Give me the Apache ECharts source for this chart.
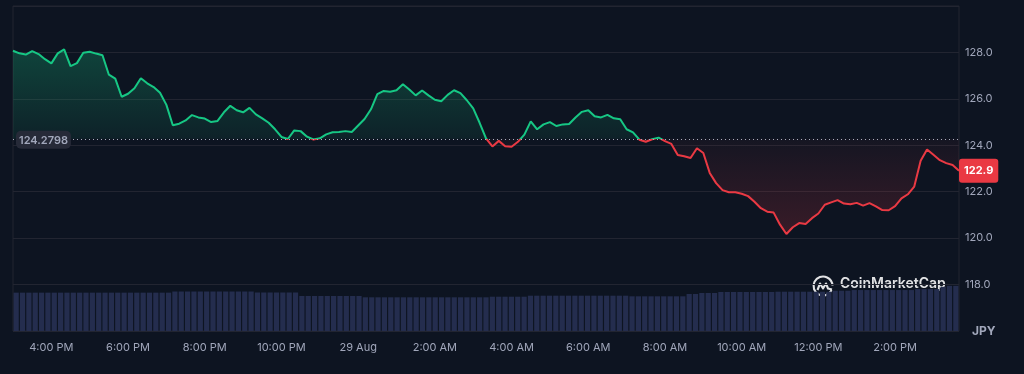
<!DOCTYPE html>
<html>
<head>
<meta charset="utf-8">
<script src="https://cdn.jsdelivr.net/npm/echarts@6/dist/echarts.min.js"></script>
<style>
html,body{margin:0;padding:0;background:#0d1421;}
#c{width:1024px;height:374px;}
</style>
</head>
<body>
<div id="c"></div>
<script>
// ---- data ----
const BASE_PRICE = 124.2798;   // reference (open) price
const LAST_PRICE = 122.9;
const START_MINUTE = 15 * 60;  // 3:00 PM, 28 Aug
const STEP_MIN = 10;
const DAY2_LABEL = '29 Aug';

const prices = [
  128.07,127.96,127.91,128.06,127.93,127.71,127.53,127.96,128.13,127.41,
  127.54,127.99,128.03,127.95,127.88,127.04,126.87,126.09,126.22,126.46,
  126.89,126.67,126.51,126.26,125.74,124.86,124.93,125.07,125.30,125.20,
  125.15,125.00,125.05,125.42,125.70,125.51,125.42,125.61,125.33,125.16,
  124.97,124.69,124.36,124.27,124.64,124.61,124.37,124.25,124.30,124.47,
  124.56,124.57,124.61,124.57,124.85,125.13,125.55,126.20,126.34,126.31,
  126.37,126.63,126.40,126.15,126.36,126.15,125.96,125.90,126.17,126.37,
  126.25,125.94,125.59,124.97,124.30,123.95,124.19,123.96,123.94,124.15,
  124.46,125.03,124.69,124.90,125.00,124.83,124.90,124.92,125.20,125.44,
  125.51,125.25,125.20,125.31,125.16,125.12,124.69,124.56,124.24,124.15,
  124.26,124.33,124.18,124.06,123.58,123.53,123.45,123.87,123.67,122.81,
  122.37,122.07,121.98,121.98,121.91,121.81,121.57,121.29,121.14,121.10,
  120.58,120.18,120.47,120.65,120.61,120.86,121.06,121.44,121.54,121.64,
  121.49,121.46,121.52,121.40,121.51,121.37,121.21,121.20,121.38,121.71,
  121.89,122.22,123.33,123.82,123.59,123.36,123.23,123.15,122.90
];

const volumes = [
  11.80,11.80,11.80,11.80,11.80,11.80,11.80,11.80,11.80,11.80,
  11.80,11.80,11.80,11.80,11.80,11.80,11.80,11.80,11.80,11.80,
  11.80,11.80,11.80,11.80,11.80,12.15,12.15,12.15,12.15,12.15,
  12.15,12.15,12.15,12.15,12.15,12.15,12.15,12.15,11.85,11.85,
  11.85,11.85,11.85,11.85,11.85,10.77,10.77,10.77,10.77,10.77,
  10.77,10.77,10.77,10.77,10.77,10.37,10.37,10.37,10.37,10.37,
  10.37,10.37,10.37,10.37,10.37,10.37,10.37,10.37,10.37,10.37,
  10.37,10.37,10.37,10.37,10.37,10.55,10.55,10.55,10.55,10.55,
  10.55,10.86,10.86,10.86,10.86,10.86,10.86,10.86,10.86,10.86,
  10.86,10.86,10.86,10.86,10.86,10.86,10.86,10.68,10.68,10.68,
  10.68,10.68,10.68,10.68,10.68,10.68,11.38,11.38,11.69,11.69,
  11.69,12.00,12.00,12.00,12.00,12.00,12.00,12.00,12.00,12.00,
  12.09,12.09,12.09,12.09,12.09,12.09,12.09,12.09,12.09,12.40,
  12.40,12.40,12.60,12.60,12.60,12.60,12.60,12.60,12.60,12.60,
  12.60,12.60,12.90,12.90,12.90,12.90,13.60,13.90,13.90
];

const priceTickLabels = [118, 120, 122, 124, 126, 128];

// category keys: minutes since 00:00 of 28 Aug
const categories = prices.map((_, i) => String(START_MINUTE + i * STEP_MIN));

function timeLabel(key) {
  const t = Number(key);
  const m = t % 1440;
  if (m === 0) return DAY2_LABEL;
  const h = Math.floor(m / 60), mm = m % 60;
  const ap = h >= 12 ? 'PM' : 'AM';
  const h12 = (h % 12) || 12;
  return h12 + ':' + String(mm).padStart(2, '0') + ' ' + ap;
}

// ---- styles ----
const GREEN = '#16c784';
const RED = '#ea3943';
const BG = '#0d1421';
const GRID = '#222531';
const LABEL = '#a1a7bb';
const FONT = 'Inter, "Noto Sans", sans-serif';

const greenArea = prices.map(v => Math.max(v, BASE_PRICE));
const redArea = prices.map(v => Math.min(v, BASE_PRICE));

const chart = echarts.init(document.getElementById('c'), null, {renderer: 'canvas'});

chart.setOption({
  backgroundColor: BG,
  animation: false,
  textStyle: {fontFamily: FONT},
  title: {
    text: 'JPY', left: 967, top: 320,
    textStyle: {color: LABEL, fontSize: 12, fontWeight: 'bold', fontFamily: FONT}
  },
  grid: {left: 13, right: 65, top: 6, bottom: 43, show: true, borderColor: GRID, borderWidth: 1, containLabel: false},
  xAxis: [
    {
      type: 'category',
      data: categories,
      boundaryGap: false,
      axisLine: {show: false},
      axisTick: {show: false},
      splitLine: {show: false},
      axisLabel: {
        interval: (idx, val) => (Number(val) % 1440) % 120 === 0,
        formatter: v => timeLabel(v),
        color: LABEL, fontSize: 11, margin: 11, fontFamily: FONT
      }
    },
    {
      type: 'category', data: categories, boundaryGap: true, show: false
    }
  ],
  yAxis: [
    {
      type: 'value', position: 'right', min: 116, max: 130, interval: 2,
      axisLine: {show: false}, axisTick: {show: false},
      splitLine: {show: true, lineStyle: {color: GRID, width: 1}},
      axisLabel: {
        formatter: v => priceTickLabels.includes(v) ? v.toFixed(1) : '',
        color: LABEL, fontSize: 11, margin: 6, fontFamily: FONT
      }
    },
    {type: 'value', min: 0, max: 100, show: false, splitLine: {show: false}}
  ],
  visualMap: {
    show: false, type: 'piecewise', seriesIndex: 3, dimension: 1,
    pieces: [
      {gt: BASE_PRICE, lte: 200, color: GREEN},
      {gte: 0, lte: BASE_PRICE, color: RED}
    ]
  },
  graphic: [
    {
      type: 'group', left: 811, top: 274, silent: true,
      children: [
        {type: 'arc', shape: {cx: 11, cy: 11, r: 9.5, startAngle: 0.45, endAngle: Math.PI * 2 - 0.05, clockwise: true},
         style: {stroke: 'rgba(255,255,255,0.88)', lineWidth: 2.1, fill: null}},
        {type: 'polyline', shape: {points: [[5.5, 15], [8, 8.5], [11, 13.5], [14, 8.5], [16, 13.5], [20, 14.5]]},
         style: {stroke: 'rgba(255,255,255,0.88)', lineWidth: 2.1, fill: null, lineJoin: 'round'}}
      ]
    },
    {
      type: 'text', left: 840, top: 277, silent: true,
      style: {text: 'CoinMarketCap', fill: 'rgba(255,255,255,0.88)', font: '600 14px Inter, "Noto Sans", sans-serif'}
    }
  ],
  series: [
    {
      name: 'Volume', type: 'bar', xAxisIndex: 1, yAxisIndex: 1, data: volumes,
      barCategoryGap: '18%', itemStyle: {color: '#242d4e'}, silent: true
    },
    {
      name: 'above', type: 'line', data: greenArea, symbol: 'none', silent: true,
      lineStyle: {width: 0, opacity: 0},
      areaStyle: {
        origin: BASE_PRICE,
        color: new echarts.graphic.LinearGradient(0, 0, 0, 1, [
          {offset: 0, color: 'rgba(22,199,132,0.38)'},
          {offset: 1, color: 'rgba(22,199,132,0.11)'}
        ])
      }
    },
    {
      name: 'below', type: 'line', data: redArea, symbol: 'none', silent: true,
      lineStyle: {width: 0, opacity: 0},
      areaStyle: {
        origin: BASE_PRICE,
        color: new echarts.graphic.LinearGradient(0, 0, 0, 1, [
          {offset: 0, color: 'rgba(234,57,67,0.05)'},
          {offset: 1, color: 'rgba(234,57,67,0.28)'}
        ])
      }
    },
    {
      name: 'Price', type: 'line', data: prices, symbol: 'none',
      lineStyle: {width: 2},
      markLine: {
        silent: true, symbol: ['none', 'none'],
        data: [
          {
            yAxis: BASE_PRICE,
            lineStyle: {type: [1, 3], color: '#a7adbd', width: 1},
            label: {
              show: true, position: 'insideStartTop', distance: [3, -10],
              formatter: String(BASE_PRICE),
              color: LABEL, fontSize: 11, fontWeight: 600, fontFamily: FONT,
              backgroundColor: '#262a38', borderRadius: 5, padding: [4, 3, 3, 3]
            }
          },
          {
            yAxis: LAST_PRICE,
            lineStyle: {width: 0, color: 'rgba(0,0,0,0)'},
            label: {
              show: true, position: 'end', distance: 0,
              formatter: LAST_PRICE.toFixed(1),
              color: '#ffffff', fontSize: 11, fontWeight: 'bold', fontFamily: FONT,
              backgroundColor: RED, borderRadius: 3, padding: [7, 5, 6, 5]
            }
          }
        ]
      }
    }
  ]
});
</script>
</body>
</html>
